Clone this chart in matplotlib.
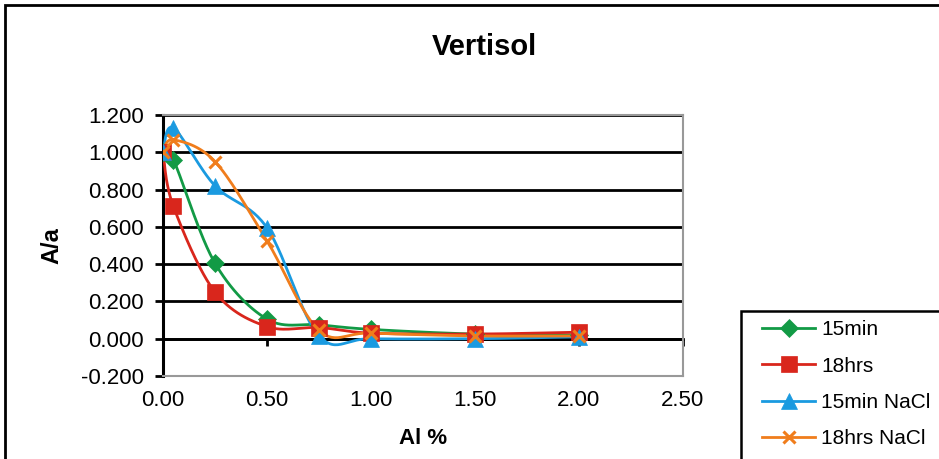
import numpy as np
import matplotlib
matplotlib.use("Agg")
from matplotlib import pyplot as plt
from matplotlib.patches import Rectangle
from matplotlib.ticker import FormatStrFormatter, MultipleLocator

plt.rcParams['font.family'] = ['Liberation Sans', 'DejaVu Sans']

al = [0.0, 0.05, 0.25, 0.5, 0.75, 1.0, 1.5, 2.0]
min15 = [1.0, 0.96, 0.405, 0.105, 0.075, 0.05, 0.025, 0.02]
hrs18 = [1.0, 0.71, 0.25, 0.065, 0.06, 0.03, 0.025, 0.035]
min15_nacl = [1.0, 1.13, 0.82, 0.595, 0.015, 0.0, 0.0, 0.01]
hrs18_nacl = [1.0, 1.067, 0.95, 0.525, 0.045, 0.03, 0.015, 0.015]

labels = ['15min', '18hrs', '15min NaCl', '18hrs NaCl']
colors = ['#129a45', '#d9261c', '#1a9ae0', '#f07d1c']
markers = ['D', 's', '^', 'x']
msizes = [9.5, 11.5, 11.5, 9]


def smooth(x, y, n=30):
    # excel style smoothed line: bezier segments through the points
    x = np.asarray(x, float)
    y = np.asarray(y, float)
    px = np.concatenate([[x[0]], x, [x[-1]]])
    py = np.concatenate([[y[0]], y, [y[-1]]])
    xs, ys = [], []
    t = np.linspace(0, 1, n)
    for i in range(1, len(px) - 2):
        p0 = np.array([px[i - 1], py[i - 1]])
        p1 = np.array([px[i], py[i]])
        p2 = np.array([px[i + 1], py[i + 1]])
        p3 = np.array([px[i + 2], py[i + 2]])
        c1 = p1 + (p2 - p0) / 6
        c2 = p2 - (p3 - p1) / 6
        pts = (np.outer((1 - t) ** 3, p1) + np.outer(3 * (1 - t) ** 2 * t, c1)
               + np.outer(3 * (1 - t) * t ** 2, c2) + np.outer(t ** 3, p2))
        xs.extend(pts[:, 0])
        ys.extend(pts[:, 1])
    return xs, ys


fig = plt.figure(figsize=(9.39, 4.59), dpi=100)
ax = fig.add_axes([163 / 939, 1 - 376 / 459, 520 / 939, 261 / 459])

series = [min15, hrs18, min15_nacl, hrs18_nacl]
for vals, lab, c, m, ms in zip(series, labels, colors, markers, msizes):
    sx, sy = smooth(al, vals)
    ax.plot(sx, sy, color=c, lw=2, zorder=3)
    mew = 2.2 if m == 'x' else 0.5
    ax.plot(al, vals, ls='none', marker=m, ms=ms, color=c, mew=mew, zorder=4)
    ax.plot([], [], color=c, lw=2, marker=m, ms=ms, mew=mew, label=lab)

ax.set_xlim(0, 2.5)
ax.set_ylim(-0.2, 1.2)
ax.yaxis.set_major_locator(MultipleLocator(0.2))
ax.xaxis.set_major_locator(MultipleLocator(0.5))
ax.yaxis.set_major_formatter(FormatStrFormatter('%.3f'))
ax.xaxis.set_major_formatter(FormatStrFormatter('%.2f'))
ax.grid(axis='y', color='black', lw=2)
ax.set_axisbelow(True)

for s in ['top', 'right', 'bottom']:
    ax.spines[s].set_color('#999999')
    ax.spines[s].set_linewidth(1.5)
ax.spines['left'].set_color('black')
ax.spines['left'].set_linewidth(2.2)
ax.tick_params(axis='y', direction='out', length=6, width=2, labelsize=16, pad=8)
ax.tick_params(axis='x', length=0, labelsize=16, pad=10)

# x axis crossing at y = 0
sec = ax.secondary_xaxis(0, transform=ax.transData)
sec.spines['bottom'].set_color('black')
sec.spines['bottom'].set_linewidth(2)
sec.xaxis.set_major_locator(MultipleLocator(0.5))
sec.tick_params(axis='x', direction='out', length=5, width=2, labelbottom=False)

ax.set_xlabel('Al %', fontsize=16, fontweight='bold', labelpad=12)
ax.set_ylabel('A/a', fontsize=17, fontweight='bold', labelpad=12)

fig.text(484 / 939, 1 - 47 / 459, 'Vertisol', ha='center', va='center',
         fontsize=21, fontweight='bold')

# chart border and legend box
fig.patches.append(Rectangle((5 / 939, -0.1), 1.2, 1 - 5 / 459 + 0.1,
                             transform=fig.transFigure, fill=False,
                             edgecolor='black', lw=2))
fig.patches.append(Rectangle((741 / 939, -0.1), 0.5, 1 - 311 / 459 + 0.1,
                             transform=fig.transFigure, fill=False,
                             edgecolor='black', lw=1.8))
fig.legend(loc='upper left', bbox_to_anchor=(762 / 939, 1 - 320 / 459),
           frameon=False, fontsize=15, handlelength=2.55, labelspacing=0.84,
           handletextpad=0.3, borderaxespad=0, borderpad=0)

fig.savefig('out.png', dpi=100)
